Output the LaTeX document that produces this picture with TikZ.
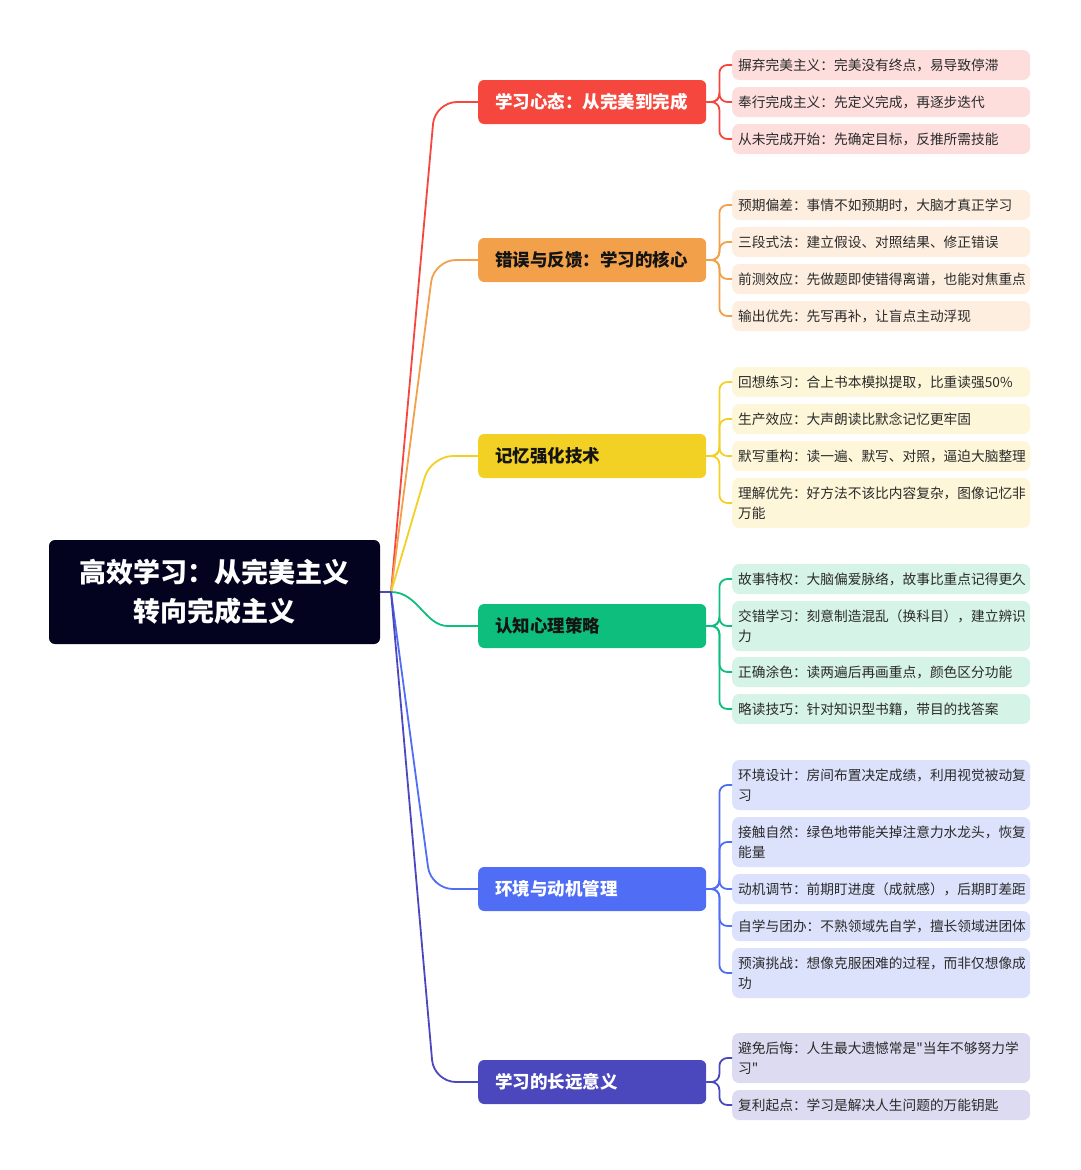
\documentclass[tikz,border=0pt]{standalone}
\usepackage{fontspec}
\setmainfont{Noto Sans CJK SC}
\newfontfamily\plainq{Noto Sans CJK SC}[Ligatures=ResetAll]
\definecolor{rootc}{HTML}{03031F}
\definecolor{cR}{HTML}{F5473D}\definecolor{fR}{HTML}{FDDEDD}
\definecolor{cO}{HTML}{F3A04B}\definecolor{fO}{HTML}{FDEEDF}
\definecolor{cY}{HTML}{F2D024}\definecolor{fY}{HTML}{FDF6D8}
\definecolor{cG}{HTML}{0DBE7C}\definecolor{fG}{HTML}{D5F3E6}
\definecolor{cB}{HTML}{4F6DF5}\definecolor{fB}{HTML}{DDE2FC}
\definecolor{cI}{HTML}{4B48BE}\definecolor{fI}{HTML}{DCDBF1}
\definecolor{leaftext}{HTML}{2A2A2A}
\definecolor{darktext}{HTML}{141414}
\begin{document}
\begin{tikzpicture}[x=1pt,y=-1pt,
  leaf/.style={anchor=west, text width=286pt, inner xsep=6pt, inner ysep=0pt,
    minimum height=30pt, rounded corners=7pt, align=left, text=leaftext,
    font=\fontsize{13.7}{20}\selectfont},
  two/.style={minimum height=50pt},
  branchbox/.style={anchor=west, text width=194pt, inner xsep=17pt, inner ysep=0pt,
    minimum height=44pt, rounded corners=6pt, align=left,
    font=\bfseries\fontsize{17.5}{20}\selectfont},
  conn/.style={line width=1.8pt, rounded corners=22pt},
  lconn/.style={line width=1.8pt, rounded corners=8pt}
]
\useasboundingbox (0,0) rectangle (1080,1170);

% root
\node[fill=rootc, text=white, minimum width=331pt, minimum height=104pt, rounded corners=6pt,
  align=center, font=\bfseries\fontsize{27}{39}\selectfont] (root) at (214.5,592)
  {高效学习：从完美主义\\转向完成主义};
\coordinate (hub) at (391,592);

% branches
\node[branchbox, fill=cR, text=white] (b1) at (478,102) {学习心态：从完美到完成};
\node[branchbox, fill=cO, text=darktext] (b2) at (478,260) {错误与反馈：学习的核心};
\node[branchbox, fill=cY, text=darktext] (b3) at (478,456) {记忆强化技术};
\node[branchbox, fill=cG, text=darktext] (b4) at (478,626) {认知心理策略};
\node[branchbox, fill=cB, text=white] (b5) at (478,889) {环境与动机管理};
\node[branchbox, fill=cI, text=white] (b6) at (478,1082) {学习的长远意义};

% leaves red
\node[leaf, fill=fR] (l11) at (732,65) {摒弃完美主义：完美没有终点，易导致停滞};
\node[leaf, fill=fR] (l12) at (732,102) {奉行完成主义：先定义完成，再逐步迭代};
\node[leaf, fill=fR] (l13) at (732,139) {从未完成开始：先确定目标，反推所需技能};
% orange
\node[leaf, fill=fO] (l21) at (732,205) {预期偏差：事情不如预期时，大脑才真正学习};
\node[leaf, fill=fO] (l22) at (732,242) {三段式法：建立假设、对照结果、修正错误};
\node[leaf, fill=fO] (l23) at (732,279) {前测效应：先做题即使错得离谱，也能对焦重点};
\node[leaf, fill=fO] (l24) at (732,316) {输出优先：先写再补，让盲点主动浮现};
% yellow
\node[leaf, fill=fY] (l31) at (732,382) {回想练习：合上书本模拟提取，比重读强50\%};
\node[leaf, fill=fY] (l32) at (732,419) {生产效应：大声朗读比默念记忆更牢固};
\node[leaf, fill=fY] (l33) at (732,456) {默写重构：读一遍、默写、对照，逼迫大脑整理};
\node[leaf, fill=fY, two] (l34) at (732,503) {理解优先：好方法不该比内容复杂，图像记忆非\\万能};
% green
\node[leaf, fill=fG] (l41) at (732,579) {故事特权：大脑偏爱脉络，故事比重点记得更久};
\node[leaf, fill=fG, two] (l42) at (732,626) {交错学习：刻意制造混乱（换科目），建立辨识\\力};
\node[leaf, fill=fG] (l43) at (732,672) {正确涂色：读两遍后再画重点，颜色区分功能};
\node[leaf, fill=fG] (l44) at (732,709) {略读技巧：针对知识型书籍，带目的找答案};
% blue
\node[leaf, fill=fB, two] (l51) at (732,785) {环境设计：房间布置决定成绩，利用视觉被动复\\习};
\node[leaf, fill=fB, two] (l52) at (732,842) {接触自然：绿色地带能关掉注意力水龙头，恢复\\能量};
\node[leaf, fill=fB] (l53) at (732,889) {动机调节：前期盯进度（成就感），后期盯差距};
\node[leaf, fill=fB] (l54) at (732,926) {自学与团办：不熟领域先自学，擅长领域进团体};
\node[leaf, fill=fB, two] (l55) at (732,973) {预演挑战：想像克服困难的过程，而非仅想像成\\功};
% indigo
\node[leaf, fill=fI, two] (l61) at (732,1058) {避免后悔：人生最大遗憾常是{\plainq"}当年不够努力学\\习{\plainq"}};
\node[leaf, fill=fI] (l62) at (732,1105) {复利起点：学习是解决人生问题的万能钥匙};

% root connectors
\draw[conn, cR] (hub) -- (435,102) -- (b1.west);
\draw[conn, cO] (hub) -- (434,260) -- (b2.west);
\draw[conn, cY] (hub) -- (431,456) -- (b3.west);
\draw[line width=1.8pt, cG] (hub) .. controls (418,592) and (425,626) .. (448,626) -- (b4.west);
\draw[conn, cB] (hub) -- (431,889) -- (b5.west);
\draw[conn, cI] (hub) -- (434,1082) -- (b6.west);
\draw[line width=1.8pt, cI] (root.east) -- (hub);

% leaf connectors
\foreach \l in {l11,l12,l13}{\draw[lconn, cR] (b1.east) -- ++(13,0) |- (\l.west);}
\foreach \l in {l21,l22,l23,l24}{\draw[lconn, cO] (b2.east) -- ++(13,0) |- (\l.west);}
\foreach \l in {l31,l32,l33,l34}{\draw[lconn, cY] (b3.east) -- ++(13,0) |- (\l.west);}
\foreach \l in {l41,l42,l43,l44}{\draw[lconn, cG] (b4.east) -- ++(13,0) |- (\l.west);}
\foreach \l in {l51,l52,l53,l54,l55}{\draw[lconn, cB] (b5.east) -- ++(13,0) |- (\l.west);}
\foreach \l in {l61,l62}{\draw[lconn, cI] (b6.east) -- ++(13,0) |- (\l.west);}
\end{tikzpicture}
\end{document}
